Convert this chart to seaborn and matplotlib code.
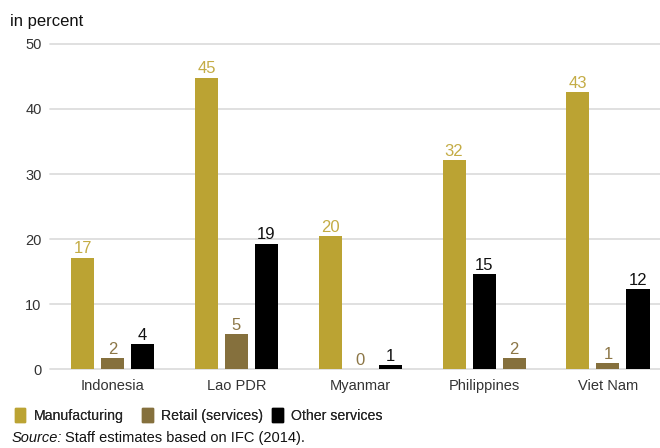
import pandas as pd
import numpy as np
import matplotlib.pyplot as plt
import seaborn as sns

countries = ["Indonesia", "Lao PDR", "Myanmar", "Philippines", "Viet Nam"]
series = ["Manufacturing", "Retail (services)", "Other services"]
manufacturing = [17.1, 44.8, 20.4, 32.1, 42.6]
retail = [1.7, 5.4, 0.0, 1.7, 0.9]
other = [3.8, 19.3, 0.6, 14.6, 12.3]
# order of the bars inside each group (Philippines is drawn differently in the source)
slot_order = {
    "Indonesia": ["Manufacturing", "Retail (services)", "Other services"],
    "Lao PDR": ["Manufacturing", "Retail (services)", "Other services"],
    "Myanmar": ["Manufacturing", "Retail (services)", "Other services"],
    "Philippines": ["Manufacturing", "Other services", "Retail (services)"],
    "Viet Nam": ["Manufacturing", "Retail (services)", "Other services"],
}
colors = {"Manufacturing": "#BBA333", "Retail (services)": "#85703D", "Other services": "#000000"}
label_colors = {"Manufacturing": "#C4AC45", "Retail (services)": "#8C7646", "Other services": "#111111"}

values = {"Manufacturing": manufacturing, "Retail (services)": retail, "Other services": other}
rows = []
for i, c in enumerate(countries):
    for k, s in enumerate(slot_order[c]):
        rows.append({"country": c, "series": s, "slot": k, "value": values[s][i]})
df = pd.DataFrame(rows)

sns.set_theme(style="white")
plt.rcParams["font.family"] = ["Liberation Sans", "DejaVu Sans"]

fig = plt.figure(figsize=(6.6, 4.48), dpi=100)
ax = fig.add_axes([0.0758, 0.1763, 0.9242, 0.7255])

sns.barplot(data=df, x="country", y="value", hue="slot", order=countries,
            width=0.727, gap=0.233, ax=ax, legend=False, saturation=1)

for k, cont in enumerate(ax.containers):
    sub = df[df["slot"] == k].set_index("country").loc[countries]
    for bar, (c, r) in zip(cont, sub.iterrows()):
        bar.set_facecolor(colors[r["series"]])
        bar.set_edgecolor("none")
    texts = ax.bar_label(cont, labels=[f"{v:.0f}" for v in sub["value"]], padding=1, fontsize=12)
    for t, s in zip(texts, sub["series"]):
        t.set_color(label_colors[s])

ax.set_ylim(0, 50)
ax.set_xlim(-0.505, 4.42)
ax.set_yticks([0, 10, 20, 30, 40, 50])
ax.yaxis.grid(True, color="#DDDDDD", linewidth=1.3)
for gl in ax.get_ygridlines():
    gl.set_clip_on(False)
ax.set_axisbelow(True)
sns.despine(ax=ax, left=True, bottom=True, right=True, top=True)
ax.tick_params(axis="both", length=0, labelsize=10.5, colors="#333333")
ax.tick_params(axis="y", pad=6)
ax.tick_params(axis="x", pad=7)
ax.set_xlabel("")
ax.set_ylabel("")

fig.text(0.015, 0.953, "in percent", fontsize=12, color="#111111", va="center")

# one legend per entry so the columns sit where the reference puts them
for s, x0 in zip(series, [0.003, 0.196, 0.393]):
    h = plt.Rectangle((0, 0), 1, 1, color=colors[s])
    leg = fig.legend([h], [s], loc="center left", bbox_to_anchor=(x0, 0.072),
                     frameon=False, fontsize=10.2, handlelength=0.75, handleheight=1.1,
                     handletextpad=0.6)
    fig.add_artist(leg)

src = fig.text(0.018, 0.023, "Source:", fontsize=10.5, style="italic", color="#111111", va="center")
fig.canvas.draw()
bb = src.get_window_extent().transformed(fig.transFigure.inverted())
fig.text(bb.x1 + 0.004, 0.023, "Staff estimates based on IFC (2014).", fontsize=10.5,
         color="#111111", va="center")

fig.savefig("out.png", dpi=100)
